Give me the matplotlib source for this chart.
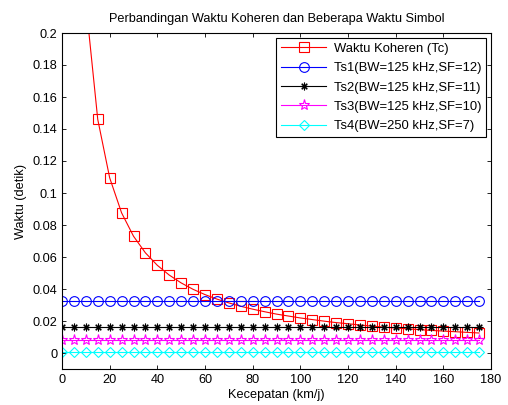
import matplotlib
matplotlib.use("Agg")
import matplotlib.pyplot as plt
from matplotlib.ticker import FormatStrFormatter, MultipleLocator

plt.rcParams['font.family'] = ['Liberation Sans', 'DejaVu Sans']

# kecepatan (km/j)
speed = [0, 5, 10, 15, 20, 25, 30, 35, 40, 45, 50, 55, 60, 65, 70, 75, 80, 85,
         90, 95, 100, 105, 110, 115, 120, 125, 130, 135, 140, 145, 150, 155,
         160, 165, 170, 175]

# waktu koheren (detik), mulai dari 5 km/j
tc_speed = speed[1:]
tc = [0.438, 0.219, 0.146, 0.1095, 0.0876, 0.073, 0.0626, 0.0548, 0.0487,
      0.0438, 0.0398, 0.0365, 0.0337, 0.0313, 0.0292, 0.0274, 0.0258, 0.0243,
      0.0231, 0.0219, 0.0209, 0.0199, 0.0190, 0.0183, 0.0175, 0.0168, 0.0162,
      0.0156, 0.0151, 0.0146, 0.0141, 0.0137, 0.0133, 0.0129, 0.0125]

# waktu simbol (detik)
ts1 = 0.032768
ts2 = 0.016384
ts3 = 0.008192
ts4 = 0.000512

labels = ["Waktu Koheren (Tc)", "Ts1(BW=125 kHz,SF=12)", "Ts2(BW=125 kHz,SF=11)",
          "Ts3(BW=125 kHz,SF=10)", "Ts4(BW=250 kHz,SF=7)"]

fs = 9.2

fig = plt.figure(figsize=(5.08, 4.05), dpi=100)
ax = fig.add_axes([62 / 508, 1 - 369 / 405, 429 / 508, 336 / 405])

lw = 0.8
ms = 7
ax.plot(tc_speed, tc, color="red", marker="s", mfc="none", ms=ms, lw=lw, mew=0.8, label=labels[0])
ax.plot(speed, [ts1] * len(speed), color="blue", marker="o", mfc="none", ms=ms, lw=lw, mew=0.8, label=labels[1])
ax.plot(speed, [ts2] * len(speed), color="black", marker=(8, 2, 0), ms=5.5, lw=lw, mew=0.8, label=labels[2])
ax.plot(speed, [ts3] * len(speed), color="magenta", marker="*", mfc="none", ms=ms + 1, lw=lw, mew=0.8, label=labels[3])
ax.plot(speed, [ts4] * len(speed), color="cyan", marker="D", mfc="none", ms=ms - 1.5, lw=lw, mew=0.8, label=labels[4])

ax.set_xlim(0, 180)
ax.set_ylim(-0.01, 0.2)
ax.xaxis.set_major_locator(MultipleLocator(20))
ax.yaxis.set_major_locator(MultipleLocator(0.02))
ax.yaxis.set_major_formatter(FormatStrFormatter('%g'))
ax.tick_params(direction="in", top=True, right=True, length=3, labelsize=fs, width=0.6)
for s in ax.spines.values():
    s.set_linewidth(0.8)

ax.set_title("Perbandingan Waktu Koheren dan Beberapa Waktu Simbol", fontsize=fs, pad=8)
ax.set_xlabel("Kecepatan (km/j)", fontsize=fs, labelpad=2)
ax.set_ylabel("Waktu (detik)", fontsize=fs, labelpad=4)

leg = ax.legend(loc="upper right", fontsize=9.4, fancybox=False, framealpha=1,
                edgecolor="black", borderaxespad=0.35, handlelength=3.4,
                labelspacing=0.55, borderpad=0.4, handletextpad=0.6)
leg.get_frame().set_linewidth(0.8)

fig.savefig("out.png", dpi=100)
